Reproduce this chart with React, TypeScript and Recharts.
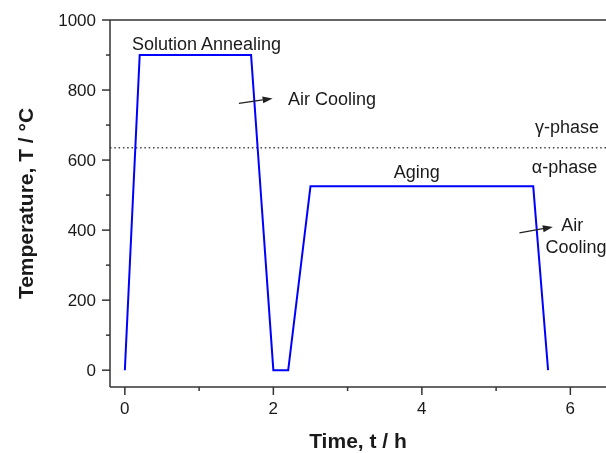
import React from 'react';
import { LineChart, Line, XAxis, YAxis, ReferenceLine, ReferenceDot } from 'recharts';

// Heat-treatment schedule
const timeH = [0, 0.2, 1.7, 2.0, 2.2, 2.5, 5.5, 5.7];
const tempC = [0, 900, 900, 0, 0, 525, 525, 0];

const xTicks = [0, 1, 2, 3, 4, 5, 6];
const xTickLabels = ['0', '', '2', '', '4', '', '6'];
const yTicks = [0, 100, 200, 300, 400, 500, 600, 700, 800, 900, 1000];
const yTickLabels = ['0', '', '200', '', '400', '', '600', '', '800', '', '1000'];

const phaseBoundary = 635;

const annotationText = ['Solution Annealing', 'Air Cooling', '\u03b3-phase', '\u03b1-phase', 'Aging', 'Air', 'Cooling'];
const annotationX = [1.1, 2.197, 5.525, 5.481, 3.93, 5.876, 5.665];
const annotationY = [915, 757, 676, 564, 549, 397, 335];
const annotationAnchor = ['middle', 'start', 'start', 'start', 'middle', 'start', 'start'];

const arrowStart = [{ x: 1.536, y: 762 }, { x: 5.314, y: 392 }];
const arrowEnd = [{ x: 1.99, y: 776 }, { x: 5.764, y: 409 }];

const data = timeH.map((t, i) => ({ t, T: tempC[i] }));

const FONT = '"Liberation Sans", Arial, Helvetica, sans-serif';
const AXIS = '#333';
const TXT = '#1a1a1a';

const XTick = (props: any) => {
  const { x, y, payload } = props;
  const idx = xTicks.indexOf(payload.value);
  const label = idx >= 0 ? xTickLabels[idx] : '';
  const major = label !== '';
  return (
    <g>
      <line x1={x} y1={y} x2={x} y2={y + (major ? 8 : 4)} stroke={AXIS} strokeWidth={1.5} />
      {major && (
        <text x={x} y={y + 27} textAnchor="middle" fontSize={17} fontFamily={FONT} fill={TXT}>
          {label}
        </text>
      )}
    </g>
  );
};

const YTick = (props: any) => {
  const { x, y, payload } = props;
  const idx = yTicks.indexOf(payload.value);
  const label = idx >= 0 ? yTickLabels[idx] : '';
  const major = label !== '';
  return (
    <g>
      <line x1={x} y1={y} x2={x - (major ? 8 : 4)} y2={y} stroke={AXIS} strokeWidth={1.5} />
      {major && (
        <text x={x - 14} y={y} dy="0.36em" textAnchor="end" fontSize={17} fontFamily={FONT} fill={TXT}>
          {label}
        </text>
      )}
    </g>
  );
};

const XLabel = (props: any) => {
  const vb = props.viewBox || {};
  return (
    <text x={vb.x + vb.width / 2} y={vb.y + 61} textAnchor="middle" fontSize={21} fontWeight="bold" fontFamily={FONT} fill={TXT}>
      Time, t / h
    </text>
  );
};

const YLabel = (props: any) => {
  const vb = props.viewBox || {};
  const cx = 25;
  const cy = vb.y + vb.height / 2;
  return (
    <text x={cx} y={cy} transform={`rotate(-90 ${cx} ${cy})`} textAnchor="middle" fontSize={21} fontWeight="bold" fontFamily={FONT} fill={TXT}>
      Temperature, T / °C
    </text>
  );
};

const Arrow = (props: any) => {
  const { x1, y1, x2, y2 } = props;
  const dx = x2 - x1;
  const dy = y2 - y1;
  const len = Math.sqrt(dx * dx + dy * dy) || 1;
  const ux = dx / len;
  const uy = dy / len;
  const hl = 10;
  const hw = 3.5;
  const bx = x2 - ux * hl;
  const by = y2 - uy * hl;
  const p1 = `${x2},${y2}`;
  const p2 = `${bx - uy * hw},${by + ux * hw}`;
  const p3 = `${bx + uy * hw},${by - ux * hw}`;
  return (
    <g>
      <line x1={x1} y1={y1} x2={bx} y2={by} stroke="#222" strokeWidth={1.3} />
      <polygon points={`${p1} ${p2} ${p3}`} fill="#222" />
    </g>
  );
};

export default function App() {
  return (
    <div style={{ position: 'fixed', left: 8, top: 8, width: 598, height: 445 }}>
      <LineChart width={598} height={445} data={data} margin={{ top: 12, right: 0, bottom: 0, left: 0 }}>
        <XAxis
          dataKey="t"
          type="number"
          domain={[-0.2, 6.48]}
          allowDataOverflow
          ticks={xTicks}
          interval={0}
          tick={<XTick />}
          tickLine={false}
          tickSize={0}
          tickMargin={0}
          height={66}
          axisLine={{ stroke: AXIS, strokeWidth: 1.5 }}
          label={<XLabel />}
        />
        <YAxis
          type="number"
          domain={[-48, 1000]}
          allowDataOverflow
          ticks={yTicks}
          interval={0}
          tick={<YTick />}
          tickLine={false}
          tickSize={0}
          tickMargin={0}
          width={102}
          axisLine={{ stroke: AXIS, strokeWidth: 1.5 }}
          label={<YLabel />}
        />
        <ReferenceLine y={1000} stroke={AXIS} strokeWidth={1.5} />
        <ReferenceLine y={phaseBoundary} stroke="#444" strokeWidth={1.6} strokeDasharray="1.5 2.8" />
        <Line
          type="linear"
          dataKey="T"
          stroke="#0000ff"
          strokeWidth={2}
          dot={false}
          activeDot={false}
          isAnimationActive={false}
        />
        {arrowStart.map((s, i) => (
          <ReferenceLine key={'a' + i} segment={[s, arrowEnd[i]]} shape={<Arrow />} ifOverflow="visible" />
        ))}
        {annotationText.map((txt, i) => (
          <ReferenceDot
            key={'t' + i}
            x={annotationX[i]}
            y={annotationY[i]}
            r={0}
            ifOverflow="visible"
            shape={(p: any) => (
              <text x={p.cx} y={p.cy} textAnchor={annotationAnchor[i] as any} fontSize={18} fontFamily={FONT} fill={TXT}>
                {txt}
              </text>
            )}
          />
        ))}
      </LineChart>
    </div>
  );
}
